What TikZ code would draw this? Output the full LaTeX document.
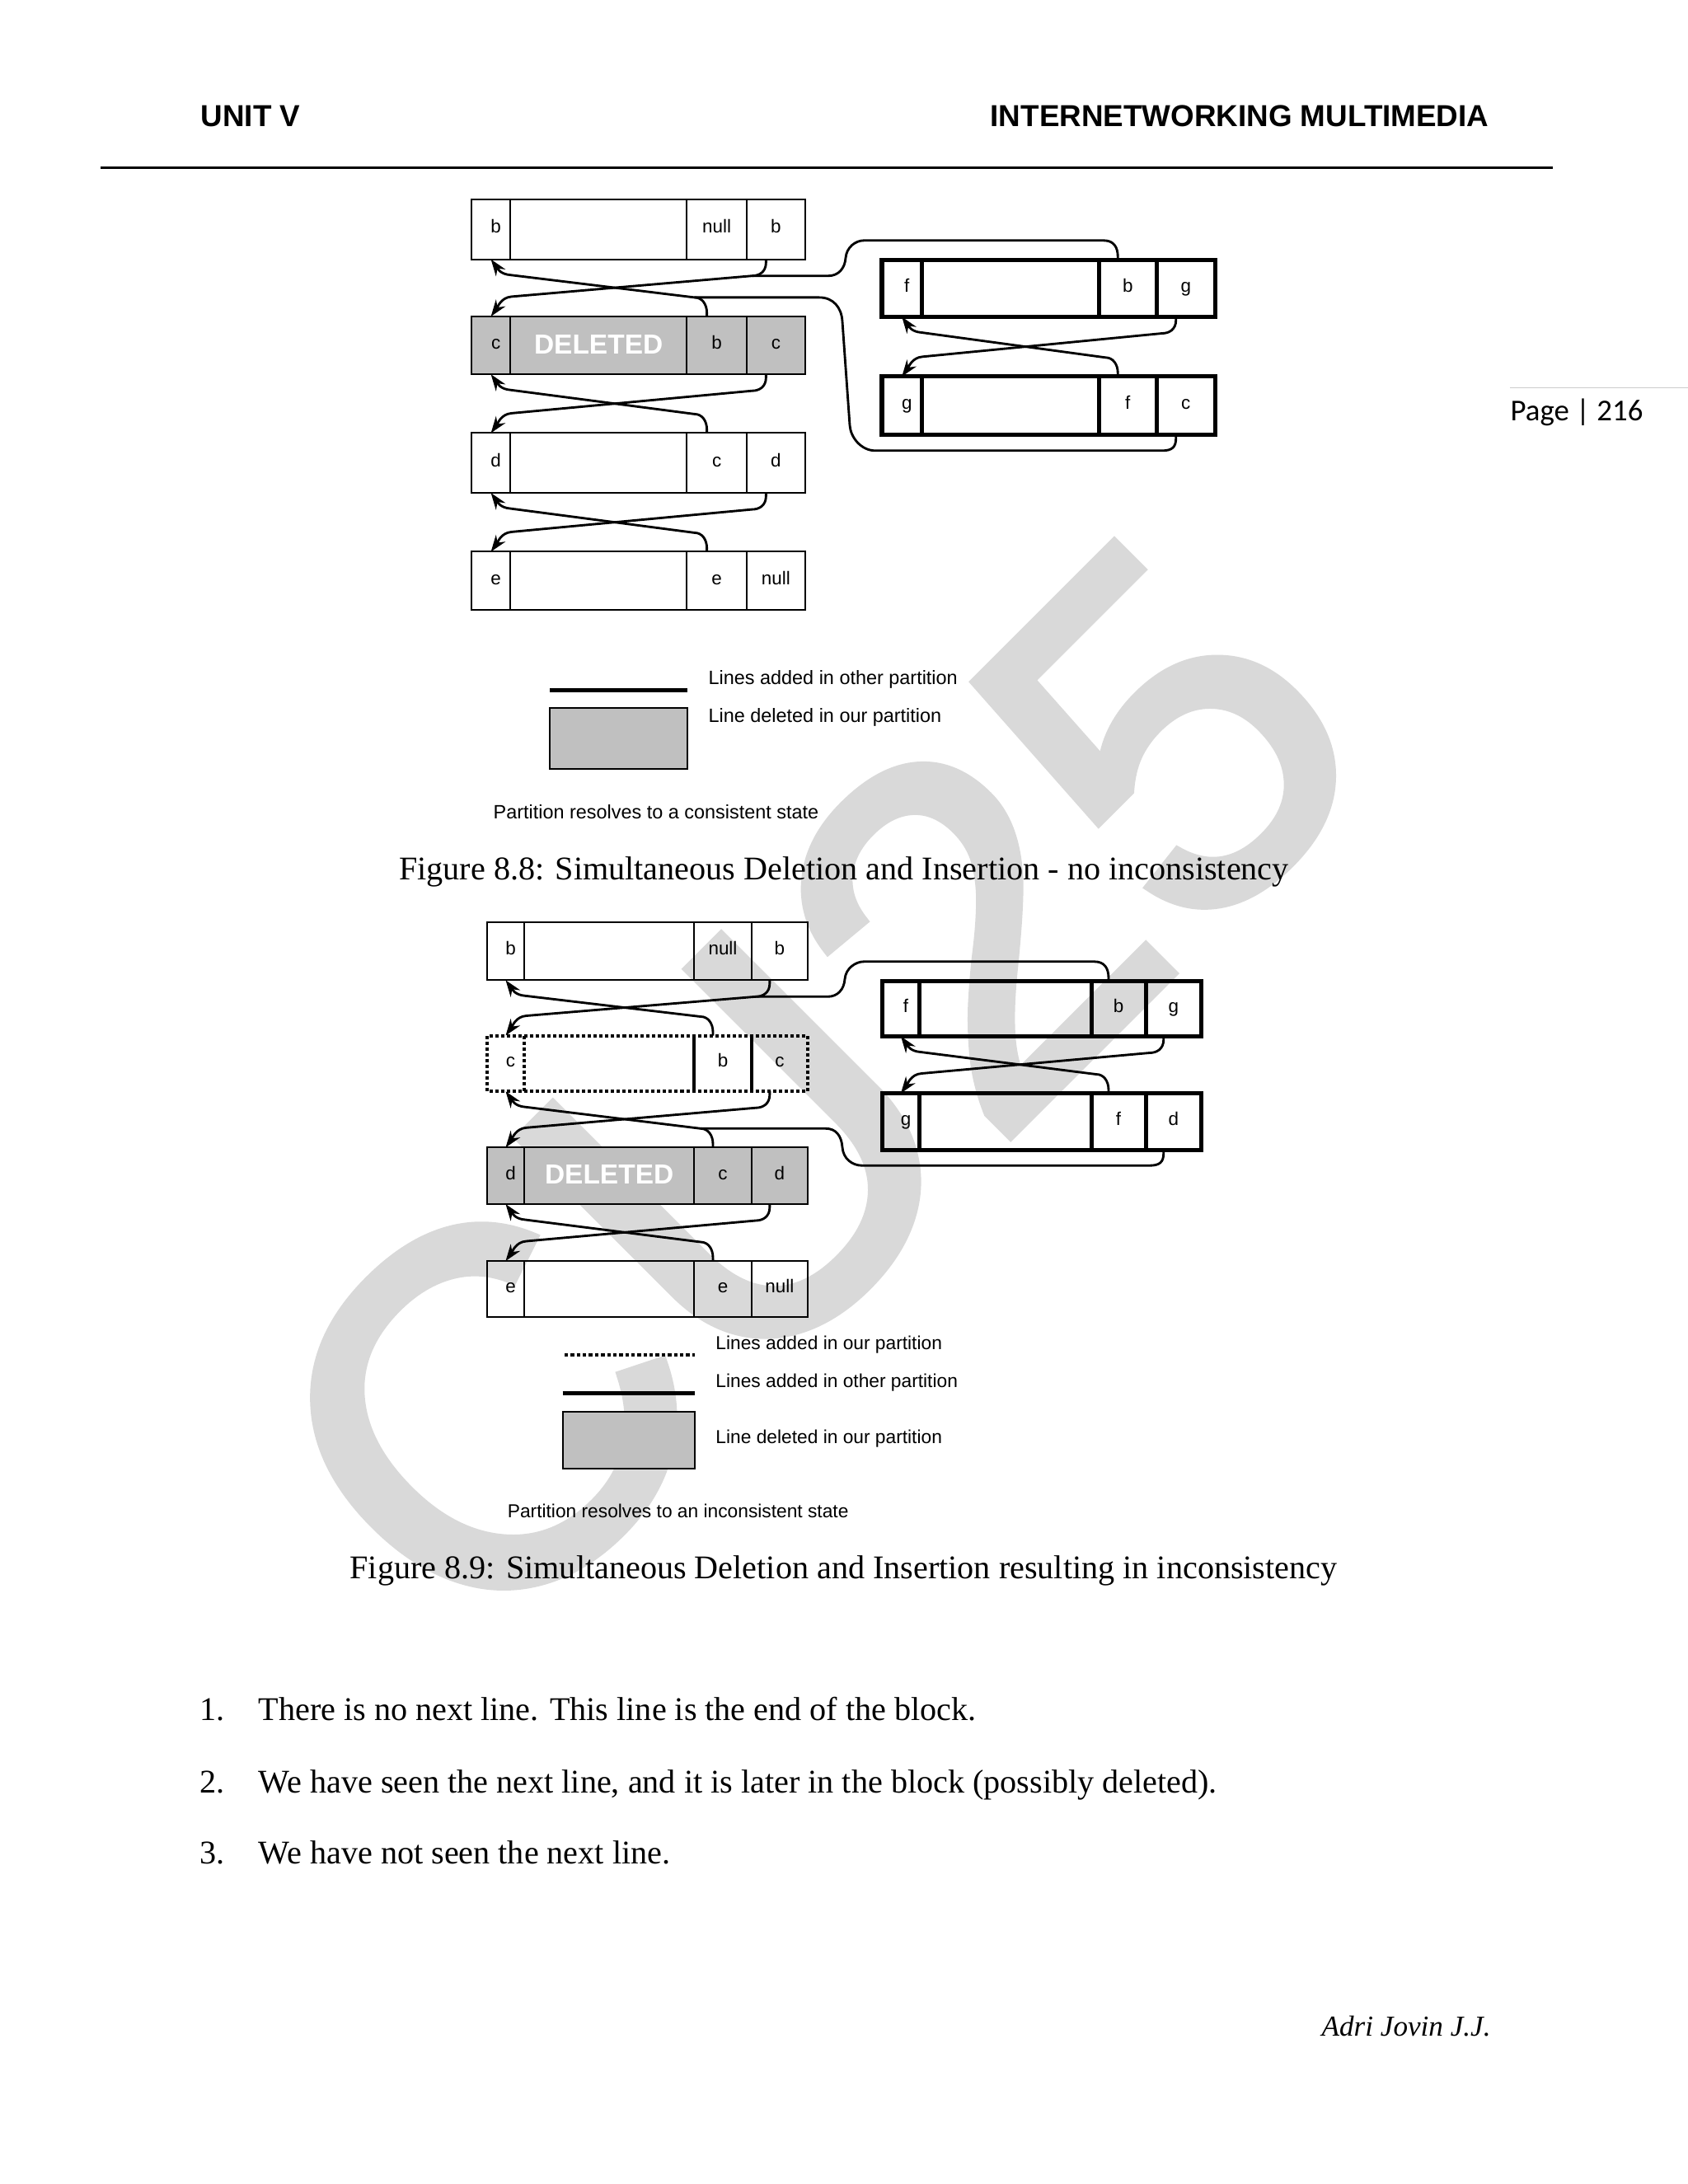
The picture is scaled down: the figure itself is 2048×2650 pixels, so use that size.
\documentclass[tikz,border=0pt]{standalone}
\usepackage{fontspec}
\setmainfont{Liberation Serif}
\newfontfamily\arialf{Liberation Sans}
\newfontfamily\wmfont[FakeBold=2]{Liberation Sans}
\newfontfamily\calibrif{Carlito}
\usetikzlibrary{arrows.meta,calc}
\definecolor{delgray}{HTML}{C0C0C0}
\definecolor{wmgray}{HTML}{D9D9D9}
\def\px{0.29883pt}
\tikzset{
  conn/.style={line width=0.85pt, line join=round},
  arrtip/.style={-{Stealth[length=6pt,width=4.2pt]}},
  cellnode/.style={inner sep=0pt, outer sep=0pt, text height=3.5pt, text depth=0.8pt,
    font=\arialf\fontsize{6.7}{8}\selectfont},
  thinrec/.style={line width=0.6pt},
  thickrec/.style={line width=1.5pt},
  dotrec/.style={line width=1.2pt, dash pattern=on 1.2pt off 0.9pt},
  legtext/.style={inner sep=0pt, anchor=base west, font=\arialf\fontsize{7}{8}\selectfont},
  legtextb/.style={inner sep=0pt, anchor=base west, font=\arialf\fontsize{6.8}{8}\selectfont},
  bodytext/.style={inner sep=0pt, anchor=base west, font=\fontsize{12}{14}\selectfont},
  captext/.style={inner sep=0pt, anchor=base, font=\fontsize{12}{14}\selectfont},
}
\newcommand\setcols[5]{\def\cxa{#1}\def\cxb{#2}\def\cxc{#3}\def\cxd{#4}\def\cxe{#5}}
\newcommand\mkrec[8]{%
  \draw[#2] (\cxa,#3) rectangle (\cxe,#4) (\cxb,#3) -- (\cxb,#4) (\cxc,#3) -- (\cxc,#4) (\cxd,#3) -- (\cxd,#4);
  \node[cellnode, minimum width={(\cxb-\cxa)*\px}, minimum height={(#4-#3)*\px}] (#1-1) at ({(\cxa+\cxb)/2},{(#3+#4)/2}) {\hspace*{3.6pt}#5};
  \node[cellnode, minimum width={(\cxc-\cxb)*\px}, minimum height={(#4-#3)*\px}] (#1-2) at ({(\cxb+\cxc)/2},{(#3+#4)/2}) {#6};
  \node[cellnode, minimum width={(\cxd-\cxc)*\px}, minimum height={(#4-#3)*\px}] (#1-3) at ({(\cxc+\cxd)/2},{(#3+#4)/2}) {#7};
  \node[cellnode, minimum width={(\cxe-\cxd)*\px}, minimum height={(#4-#3)*\px}] (#1-4) at ({(\cxd+\cxe)/2},{(#3+#4)/2}) {#8};
}
\newcommand\crosslink[2]{%
  \draw[conn,arrtip] ($(#1-4.south)+(-12,0)$) -- ++(0,4) .. controls +(0,11) and +(9,0) .. ($(#1-4.south)+(-29,20)$)
    -- ($(#2-1.north)+(25,-24)$) .. controls +(-13,1) and +(8,-11) .. (#2-1.north);
  \draw[conn,arrtip] ($(#2-3.north)+(-12,0)$) -- ++(0,-4) .. controls +(0,-11) and +(9,0) .. ($(#2-3.north)+(-27,-23)$)
    -- ($(#1-1.south)+(24,19)$) .. controls +(-13,-1) and +(8,11) .. (#1-1.south);
}
\newcommand\delword{\raisebox{-1.65pt}{\arialf\bfseries\fontsize{10}{12}\selectfont\textcolor{white}{DELETED}}}
\begin{document}
\begin{tikzpicture}[x=0.29883pt,y=-0.29883pt]
\useasboundingbox (0,0) rectangle (2048,2650);
\fill[white] (0,0) rectangle (2048,2650);

% watermark (behind everything)
\node[rotate=45, inner sep=0pt, text=wmgray, font=\wmfont\fontsize{182}{182}\selectfont] (wm) at (985,1322) {CU25};

% header
\node[inner sep=0pt, anchor=base west, font=\arialf\bfseries\fontsize{11}{13}\selectfont] (hleft) at (243,153.3) {UNIT V};
\node[inner sep=0pt, anchor=base east, font=\arialf\bfseries\fontsize{11}{13}\selectfont] (hright) at (1807,153.3) {INTERNETWORKING MULTIMEDIA};
\draw[line width=0.9pt] (122,203) -- (1884,203);
\draw[black!20, line width=0.4pt] (1832,470.7) -- (2048,470.7);
\node[inner sep=0pt, anchor=base west, font=\calibrif\fontsize{11}{13}\selectfont] (pageno) at (1832,510.7) {Page | 216};

% ---------- Figure 8.8 ----------
\setcols{572.3}{619}{833.3}{906}{976.7}
\mkrec{b8}{thinrec}{241.7}{314.7}{b}{}{null}{b}
\mkrec{c8}{thinrec,fill=delgray}{383.9}{454.2}{c}{\delword}{b}{c}
\mkrec{d8}{thinrec}{525.4}{598.1}{d}{}{c}{d}
\mkrec{e8}{thinrec}{669.4}{740}{e}{}{e}{null}
\setcols{1070}{1118.5}{1333}{1403.5}{1474}
\mkrec{f8}{thickrec}{315.8}{384.5}{f}{}{b}{g}
\mkrec{g8}{thickrec}{456.8}{527.8}{g}{}{f}{c}

\crosslink{b8}{c8}
\crosslink{c8}{d8}
\crosslink{d8}{e8}
\crosslink{f8}{g8}

\draw[conn] ($(f8-3.north)+(-12,0)$) -- ++(0,-4) .. controls +(0,-12) and +(12,0) .. ++(-17,-20)
  -- (1048,291.8) .. controls +(-10,0) and +(1,-13) .. (1026,313) .. controls +(-1,13) and +(12,0) .. (1005,334.7)
  -- ($(b8-4.south)+(-29,20)$);
\draw[conn] ($(g8-4.south)+(-12,0)$) -- ++(0,4) .. controls +(0,11) and +(12,0) .. ++(-17,15)
  -- (1062,546.8) .. controls +(-17,0) and +(1,15) .. (1031,516) -- (1022,390)
  .. controls +(-1,-17) and +(17,0) .. (994,360.9) -- ($(c8-3.north)+(-27,-23)$);

% legend 8.8
\draw[line width=1.6pt] (667,837.3) -- (833.7,837.3);
\draw[thinrec, fill=delgray] (667,858.7) rectangle (833.7,932.7);
\node[legtext] (l81) at (859,830) {Lines added in other partition};
\node[legtext] (l82) at (859,876) {Line deleted in our partition};
\node[legtext] (l83) at (598,993) {Partition resolves to a consistent state};
\node[captext] (cap8) at (1024,1067) {Figure 8.8: Simultaneous Deletion and Insertion - no inconsistency};

% ---------- Figure 8.9 ----------
\setcols{591}{636}{842.3}{911.7}{980}
\mkrec{b9}{thinrec}{1119.3}{1189.3}{b}{}{null}{b}
\mkrec{c9}{dotrec}{1256.5}{1324.2}{c}{}{b}{c}
\draw[line width=1.2pt] (c9-3.north west) -- (c9-3.south west) (c9-4.north west) -- (c9-4.south west);
\mkrec{d9}{thinrec,fill=delgray}{1392.3}{1461}{d}{\delword}{c}{d}
\mkrec{e9}{thinrec}{1530}{1598.3}{e}{}{e}{null}
\setcols{1070.2}{1115.8}{1324}{1390}{1457.5}
\mkrec{f9}{thickrec}{1190.8}{1257.5}{f}{}{b}{g}
\mkrec{g9}{thickrec}{1326.5}{1395.2}{g}{}{f}{d}

\crosslink{b9}{c9}
\crosslink{c9}{d9}
\crosslink{d9}{e9}
\crosslink{f9}{g9}

\draw[conn] ($(f9-3.north)+(-12,0)$) -- ++(0,-4) .. controls +(0,-12) and +(12,0) .. ++(-17,-20)
  -- (1048,1166.8) .. controls +(-10,0) and +(1,-13) .. (1025,1188) .. controls +(-1,13) and +(12,0) .. (1004,1209.3)
  -- ($(b9-4.south)+(-29,20)$);
\draw[conn] ($(g9-4.south)+(-12,0)$) -- ++(0,4) .. controls +(0,11) and +(12,0) .. ++(-17,15)
  -- (1046,1414.2) .. controls +(-12,0) and +(1,14) .. (1022,1392) .. controls +(-1,-14) and +(12,0) .. (1002,1369.3)
  -- ($(d9-3.north)+(-27,-23)$);

% legend 8.9
\draw[line width=1.4pt, dash pattern=on 1.3pt off 0.9pt] (685,1644) -- (843.3,1644);
\draw[line width=1.4pt] (682.6,1690.7) -- (843.3,1690.7);
\draw[thinrec, fill=delgray] (682.6,1712.7) rectangle (843.3,1782.3);
\node[legtextb] (l91) at (867.8,1637) {Lines added in our partition};
\node[legtextb] (l92) at (867.8,1683) {Lines added in other partition};
\node[legtextb] (l93) at (867.8,1751) {Line deleted in our partition};
\node[legtextb] (l94) at (615.2,1841) {Partition resolves to an inconsistent state};
\node[captext] (cap9) at (1023.5,1915.5) {Figure 8.9: Simultaneous Deletion and Insertion resulting in inconsistency};

% list
\node[bodytext] (n1) at (242,2087) {1.};
\node[bodytext] (t1) at (313,2087) {There is no next line. This line is the end of the block.};
\node[bodytext] (n2) at (242,2175) {2.};
\node[bodytext] (t2) at (313,2175) {We have seen the next line, and it is later in the block (possibly deleted).};
\node[bodytext] (n3) at (242,2261) {3.};
\node[bodytext] (t3) at (313,2261) {We have not seen the next line.};

% signature
\node[inner sep=0pt, anchor=base west, font=\itshape\fontsize{10.5}{12}\selectfont] (sig) at (1603,2470) {Adri Jovin J.J.};
\end{tikzpicture}
\end{document}
